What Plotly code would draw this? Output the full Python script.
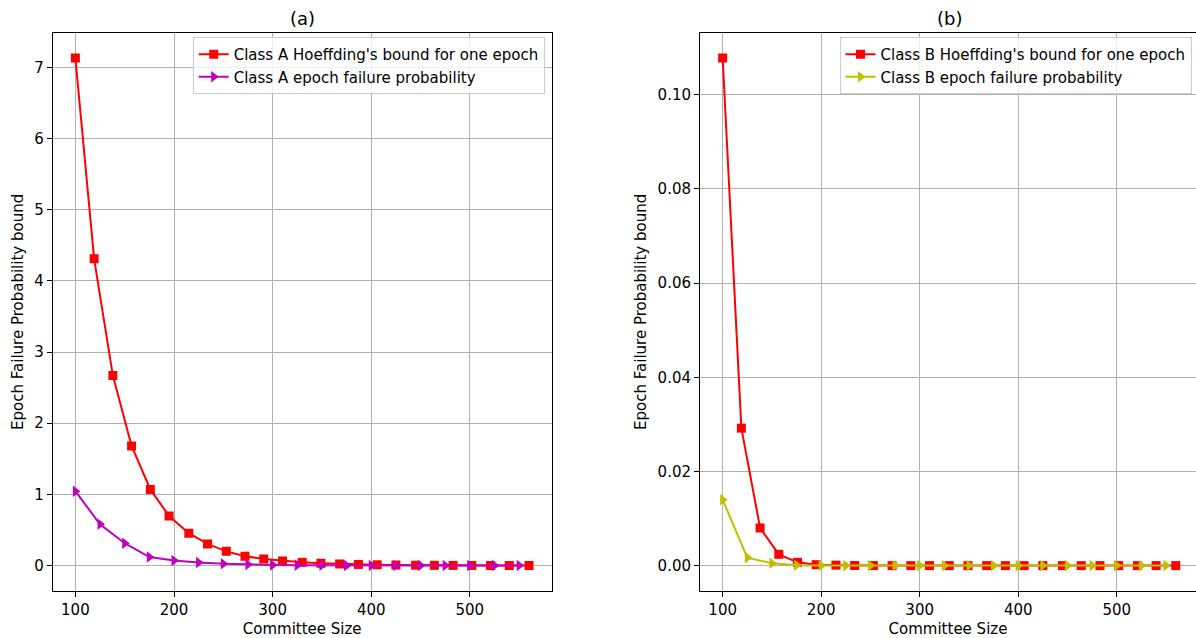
import plotly.graph_objects as go

# ---- data ----
sizes_bound = [100, 119, 138, 157, 176, 195, 215, 234, 253, 272, 291, 310, 330,
               349, 368, 387, 406, 425, 445, 464, 483, 502, 521, 540, 560]
sizes_fail = [100, 125, 150, 175, 200, 225, 250, 275, 300, 325, 350, 375, 400,
              425, 450, 475, 500, 525, 550]

a_bound = [7.13, 4.31, 2.67, 1.68, 1.07, 0.697, 0.455, 0.305, 0.20, 0.13, 0.093,
           0.065, 0.046, 0.033, 0.023, 0.016, 0.011, 0.008, 0.0055, 0.0039,
           0.0027, 0.0019, 0.0013, 0.0009, 0.0006]
a_fail = [1.045, 0.58, 0.315, 0.12, 0.072, 0.043, 0.027, 0.016, 0.010, 0.006,
          0.0037, 0.0022, 0.0013, 0.0008, 0.0005, 0.0003, 0.0002, 0.0001, 0.0001]

b_bound = [0.1078, 0.0292, 0.0080, 0.0024, 0.0007, 0.0002, 0.0001, 0.00003,
           0.00001, 0.0, 0.0, 0.0, 0.0, 0.0, 0.0, 0.0, 0.0, 0.0, 0.0, 0.0, 0.0,
           0.0, 0.0, 0.0, 0.0]
b_fail = [0.0140, 0.0017, 0.0005, 0.0001, 0.00002, 0.0, 0.0, 0.0, 0.0, 0.0, 0.0,
          0.0, 0.0, 0.0, 0.0, 0.0, 0.0, 0.0, 0.0]

names = ["Class A Hoeffding's bound for one epoch", "Class A epoch failure probability",
         "Class B Hoeffding's bound for one epoch", "Class B epoch failure probability"]
titles = ["(a)", "(b)"]
xlabel = "Committee Size"
ylabel = "Epoch Failure Probability bound"

W, H = 1196, 638
FONT = "DejaVu Sans"
FS = 15
RED, MAG, YEL = "#ff0000", "#bf00bf", "#bfbf00"

fig = go.Figure()

def add(x, y, name, color, symbol, size, xa, ya, legend):
    fig.add_trace(go.Scatter(
        x=x, y=y, name=name, mode="lines+markers", xaxis=xa, yaxis=ya,
        legend=legend,
        line=dict(color=color, width=2),
        marker=dict(symbol=symbol, size=size, color=color, line=dict(width=0)),
    ))

add(sizes_bound, a_bound, names[0], RED, "square", 9, "x", "y", "legend")
add(sizes_fail, a_fail, names[1], MAG, "triangle-right", 10, "x", "y", "legend")
add(sizes_bound, b_bound, names[2], RED, "square", 9, "x2", "y2", "legend2")
add(sizes_fail, b_fail, names[3], YEL, "triangle-right", 10, "x2", "y2", "legend2")

# pixel geometry -> paper fractions
top_px, bot_px = 32.7, 591.0
ydom = [(H - bot_px) / H, (H - top_px) / H]
xdom1 = [52.7 / W, 551.7 / W]
xdom2 = [700.0 / W, 1.0]

axcommon = dict(
    showgrid=True, gridcolor="#b0b0b0", gridwidth=1, automargin=False,
    zeroline=False, showline=True, linecolor="black", linewidth=1,
    ticks="outside", ticklen=5, tickwidth=1, tickcolor="black",
    tickfont=dict(family=FONT, size=FS, color="black"),
)

fig.update_layout(
    width=W, height=H,
    margin=dict(l=0, r=0, t=0, b=0, autoexpand=False),
    paper_bgcolor="white", plot_bgcolor="white",
    font=dict(family=FONT, size=FS, color="black"),
    xaxis=dict(domain=xdom1, range=[77, 583], anchor="y", mirror=True,
               tickvals=[100, 200, 300, 400, 500],
               title=dict(text=xlabel, standoff=5, font=dict(size=FS)), **axcommon),
    yaxis=dict(domain=ydom, range=[-0.357, 7.487], anchor="x", mirror=True,
               tickvals=[0, 1, 2, 3, 4, 5, 6, 7],
               title=dict(text=ylabel, standoff=6, font=dict(size=FS)), **axcommon),
    xaxis2=dict(domain=xdom2, range=[77, 580.5], anchor="y2", mirror=True,
                tickvals=[100, 200, 300, 400, 500],
                title=dict(text=xlabel, standoff=5, font=dict(size=FS)), **axcommon),
    yaxis2=dict(domain=ydom, range=[-0.00539, 0.11319], anchor="x2", mirror=False,
                tickvals=[0, 0.02, 0.04, 0.06, 0.08, 0.10], tickformat=".2f",
                title=dict(text=ylabel, standoff=7, font=dict(size=FS)), **axcommon),
    legend=dict(x=544.7 / W, y=(H - 37) / H, xanchor="right", yanchor="top",
                bgcolor="rgba(255,255,255,0.8)", bordercolor="#cccccc", borderwidth=1,
                font=dict(family=FONT, size=FS, color="black")),
    legend2=dict(x=1191.5 / W, y=(H - 37) / H, xanchor="right", yanchor="top",
                 bgcolor="rgba(255,255,255,0.8)", bordercolor="#cccccc", borderwidth=1,
                 font=dict(family=FONT, size=FS, color="black")),
    showlegend=True,
)

for t, xc in zip(titles, [(52.7 + 551.7) / 2 / W, (700 + 1198.5) / 2 / W]):
    fig.add_annotation(text=t, xref="paper", yref="paper", x=xc,
                       y=(H - 18) / H, xanchor="center", yanchor="middle",
                       showarrow=False, font=dict(family=FONT, size=18, color="black"))

fig.write_html("out.html", config={"displayModeBar": False},
               post_script="document.body.style.margin='0';document.body.style.padding='0';")
